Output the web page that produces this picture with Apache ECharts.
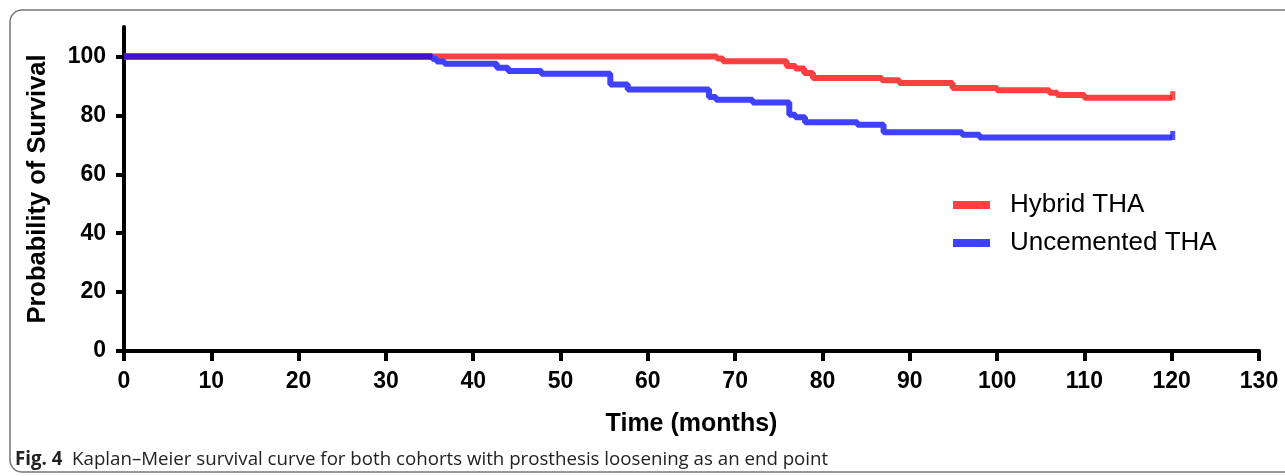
<!DOCTYPE html>
<html>
<head>
    <meta charset="utf-8">
    <title>Kaplan-Meier</title>
    <script src="https://cdn.jsdelivr.net/npm/echarts@6/dist/echarts.min.js"></script>
    <style>
        html, body { margin: 0; padding: 0; background: #fff; }
    </style>
</head>
<body>
<div id="main" style="width: 1285px;height:476px;"></div>
<script type="text/javascript">
    // survival points [month, %], step at each month
    const hybrid = [
        [0, 100], [67.9, 99.3], [68.6, 98.4], [75.9, 96.8], [76.9, 95.9], [77.9, 94.4],
        [78.9, 92.7], [86.8, 91.9], [88.8, 91.0], [94.9, 89.3], [100, 88.5], [106, 87.7],
        [106.9, 86.9], [110, 86.0], [120, 86.0]
    ];
    const uncemented = [
        [0, 100], [35.3, 99.2], [35.8, 98.3], [36.7, 97.5], [42.7, 96.2], [44, 95.1],
        [47.8, 94.1], [55.7, 90.5], [57.7, 88.8], [67, 86.2], [67.8, 85.3], [72, 84.4],
        [76.2, 80.2], [76.9, 79.4], [78, 77.7], [84, 76.8], [87, 74.3], [96, 73.4],
        [98, 72.5], [120, 72.5]
    ];
    const xTicks = [0, 130, 10];          // min, max, interval
    const yTickValues = [0, 20, 40, 60, 80, 100];

    const red = '#ff4040';
    const blue = '#4040ff';
    const font = 'Liberation Sans, Arial, sans-serif';

    // part where both curves still sit on 100% (drawn purple in the figure)
    const firstDrop = Math.min(hybrid[1][0], uncemented[1][0]);
    const common = [[0, 100], [firstDrop, 100]];

    let myChart = echarts.init(document.getElementById('main'));
    myChart.setOption({
        animation: false,
        graphic: [
            {
                type: 'rect',
                shape: { x: 10, y: 10, width: 1400, height: 462, r: [12, 0, 0, 12] },
                style: { fill: 'none', stroke: '#777', lineWidth: 1.5 },
                silent: true
            },
            {
                type: 'text',
                left: 15,
                top: 450,
                style: {
                    text: '{b|Fig. 4}  Kaplan\u2013Meier survival curve for both cohorts with prosthesis loosening as an end point',
                    font: '18.7px "Open Sans", sans-serif',
                    fill: '#222',
                    rich: {
                        b: { fontWeight: 'bold', fontSize: 18.7, fontFamily: 'Open Sans', fill: '#222' }
                    }
                }
            }
        ],
        legend: {
            orient: 'vertical',
            left: 948,
            top: 187,
            itemWidth: 37,
            itemHeight: 8,
            itemGap: 12,
            icon: 'rect',
            data: ['Hybrid THA', 'Uncemented THA'],
            textStyle: { fontSize: 26, color: '#000', fontFamily: font, padding: [0, 0, 0, 15] }
        },
        grid: { left: 124, right: 26, top: 27, bottom: 125 },
        xAxis: {
            type: 'value',
            min: xTicks[0],
            max: xTicks[1],
            interval: xTicks[2],
            name: 'Time (months)',
            nameLocation: 'middle',
            nameGap: 61,
            nameTextStyle: { fontSize: 25, fontWeight: 'bold', color: '#000', fontFamily: font },
            axisLine: { lineStyle: { color: '#000', width: 4 } },
            axisTick: { length: 10, lineStyle: { color: '#000', width: 4 } },
            axisLabel: { fontSize: 23, fontWeight: 'bold', color: '#000', fontFamily: font, margin: 19 },
            splitLine: { show: false }
        },
        yAxis: {
            type: 'value',
            min: 0,
            max: 110,
            name: 'Probability of Survival',
            nameLocation: 'middle',
            nameGap: 73,
            nameTextStyle: { fontSize: 25.5, fontWeight: 'bold', color: '#000', fontFamily: font },
            axisLine: { show: true, lineStyle: { color: '#000', width: 4 } },
            axisTick: { show: true, length: 8, customValues: yTickValues, lineStyle: { color: '#000', width: 4 } },
            axisLabel: { fontSize: 23, fontWeight: 'bold', color: '#000', fontFamily: font, margin: 18, customValues: yTickValues },
            splitLine: { show: false }
        },
        series: [
            {
                name: 'Hybrid THA',
                type: 'line',
                step: 'end',
                showSymbol: false,
                color: red,
                lineStyle: { width: 6, color: red },
                data: hybrid,
                z: 2
            },
            {
                name: 'Uncemented THA',
                type: 'line',
                step: 'end',
                showSymbol: false,
                color: blue,
                lineStyle: { width: 6, color: blue },
                data: uncemented,
                z: 3
            },
            {
                name: 'both',
                type: 'line',
                showSymbol: false,
                lineStyle: { width: 6, color: '#4212cc' },
                data: common,
                z: 4
            },
            {
                name: 'censor',
                type: 'scatter',
                symbol: 'rect',
                symbolSize: [5, 9],
                symbolOffset: [1, -2],
                itemStyle: { color: function (p) { return p.dataIndex === 0 ? '#ff2020' : '#2020ff'; } },
                data: [hybrid[hybrid.length - 1], uncemented[uncemented.length - 1]],
                z: 5
            }
        ]
    });
</script>
</body>
</html>
